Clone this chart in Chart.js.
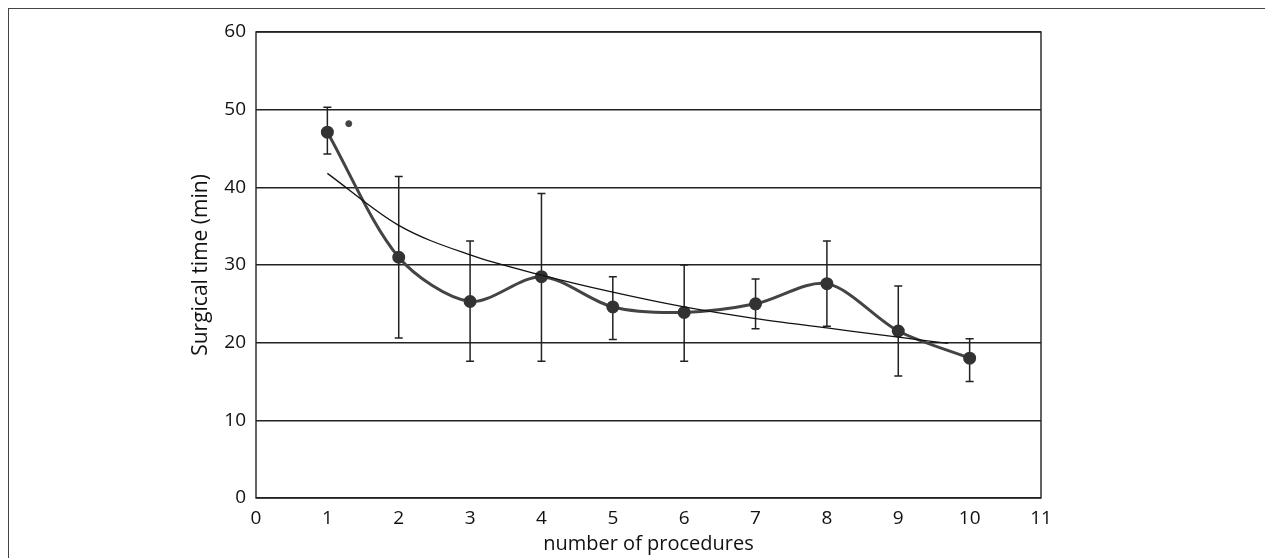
<!DOCTYPE html>
<html>
<head>
<meta charset="utf-8">
<script src="https://cdn.jsdelivr.net/npm/chart.js@4.4.0/dist/chart.umd.min.js"></script>
<style>
  body { margin: 0; background: #fff; }
  #wrap { position: relative; width: 1265px; height: 558px; }
  #frame { position: absolute; left: 8px; top: 8px; right: -2px; bottom: -2px;
           border-left: 1.5px solid #444; border-top: 1.5px solid #444; }
  canvas { position: absolute; left: 0; top: 0; }
</style>
</head>
<body>
<div id="wrap">
  <div id="frame"></div>
  <canvas id="mainChart" width="1265" height="558"></canvas>
</div>
<script>
// Values
const procedures = [1, 2, 3, 4, 5, 6, 7, 8, 9, 10];
const meanTime = [47.1, 31.0, 25.3, 28.5, 24.6, 23.9, 25.0, 27.6, 21.5, 18.0];
const errHigh = [50.3, 41.4, 33.1, 39.2, 28.5, 30.0, 28.2, 33.1, 27.3, 20.5];
const errLow = [44.3, 20.6, 17.6, 17.6, 20.4, 17.6, 21.8, 22.1, 15.7, 15.0];

// trend curve
const trendX = [1, 2, 3, 4, 5, 6, 7, 8, 9, 9.7];
const trendY = [41.8, 35.1, 31.3, 28.7, 26.5, 24.6, 23.1, 21.9, 20.7, 19.9];

// the lone dot next to the first point
const outlierX = [1.3];
const outlierY = [48.2];

const xTicks = [0, 1, 2, 3, 4, 5, 6, 7, 8, 9, 10, 11];
const yTicks = [0, 10, 20, 30, 40, 50, 60];

const FONT = "'Open Sans', sans-serif";

/**
 * Draws the vertical error bars with caps, plus the plot frame
 */
const errorBarPlugin = {
  id: 'errorBars',
  beforeDatasetsDraw(chart) {
    const { ctx, chartArea, scales: { x, y } } = chart;
    ctx.save();
    ctx.strokeStyle = '#222';
    ctx.lineWidth = 1.4;
    ctx.strokeRect(chartArea.left, chartArea.top, chartArea.right - chartArea.left, chartArea.bottom - chartArea.top);
    ctx.lineWidth = 1.5;
    procedures.forEach((p, i) => {
      const px = x.getPixelForValue(p);
      const top = y.getPixelForValue(errHigh[i]);
      const bot = y.getPixelForValue(errLow[i]);
      ctx.beginPath();
      ctx.moveTo(px, top);
      ctx.lineTo(px, bot);
      ctx.moveTo(px - 4, top);
      ctx.lineTo(px + 4, top);
      ctx.moveTo(px - 4, bot);
      ctx.lineTo(px + 4, bot);
      ctx.stroke();
    });
    ctx.restore();
  }
};

const ctx = document.getElementById('mainChart').getContext('2d');

const chart = new Chart(ctx, {
  type: 'scatter',
  data: {
    datasets: [
      {
        label: 'Trend',
        data: trendX.map((v, i) => ({ x: v, y: trendY[i] })),
        showLine: true,
        borderColor: '#111',
        borderWidth: 1.3,
        pointRadius: 0,
        cubicInterpolationMode: 'monotone',
        fill: false
      },
      {
        label: 'Surgical time',
        data: procedures.map((v, i) => ({ x: v, y: meanTime[i] })),
        showLine: true,
        borderColor: '#444',
        borderWidth: 3,
        backgroundColor: '#333',
        pointBackgroundColor: '#333',
        pointBorderColor: '#333',
        pointRadius: 5,
        tension: 0.3,
        fill: false
      },
      {
        label: 'Outlier',
        data: outlierX.map((v, i) => ({ x: v, y: outlierY[i] })),
        pointBackgroundColor: '#444',
        pointBorderColor: '#444',
        pointRadius: 3
      }
    ]
  },
  options: {
    responsive: false,
    animation: false,
    layout: {
      padding: { left: 185, right: 224, top: 32, bottom: 0 }
    },
    plugins: {
      legend: { display: false },
      tooltip: { enabled: false }
    },
    scales: {
      x: {
        type: 'linear',
        min: 0,
        max: 11,
        afterBuildTicks(scale) {
          scale.ticks = xTicks.map(v => ({ value: v }));
        },
        afterFit(scale) {
          scale.height = 60;
        },
        grid: { display: false, drawTicks: false },
        border: { display: false },
        ticks: {
          padding: 9,
          color: '#111',
          font: { family: FONT, size: 19 }
        },
        title: {
          display: true,
          text: 'number of procedures',
          color: '#111',
          padding: { top: 0, bottom: 2 },
          font: { family: FONT, size: 20 }
        }
      },
      y: {
        min: 0,
        max: 60,
        afterBuildTicks(scale) {
          scale.ticks = yTicks.map(v => ({ value: v }));
        },
        afterFit(scale) {
          scale.width = 71;
        },
        grid: { color: '#222', lineWidth: 1.4, drawTicks: false },
        border: { display: false },
        ticks: {
          padding: 10,
          color: '#111',
          font: { family: FONT, size: 19 }
        },
        title: {
          display: true,
          text: 'Surgical time (min)',
          color: '#111',
          padding: { top: 3, bottom: 0 },
          font: { family: FONT, size: 21 }
        }
      }
    }
  },
  plugins: [errorBarPlugin]
});
</script>
</body>
</html>
